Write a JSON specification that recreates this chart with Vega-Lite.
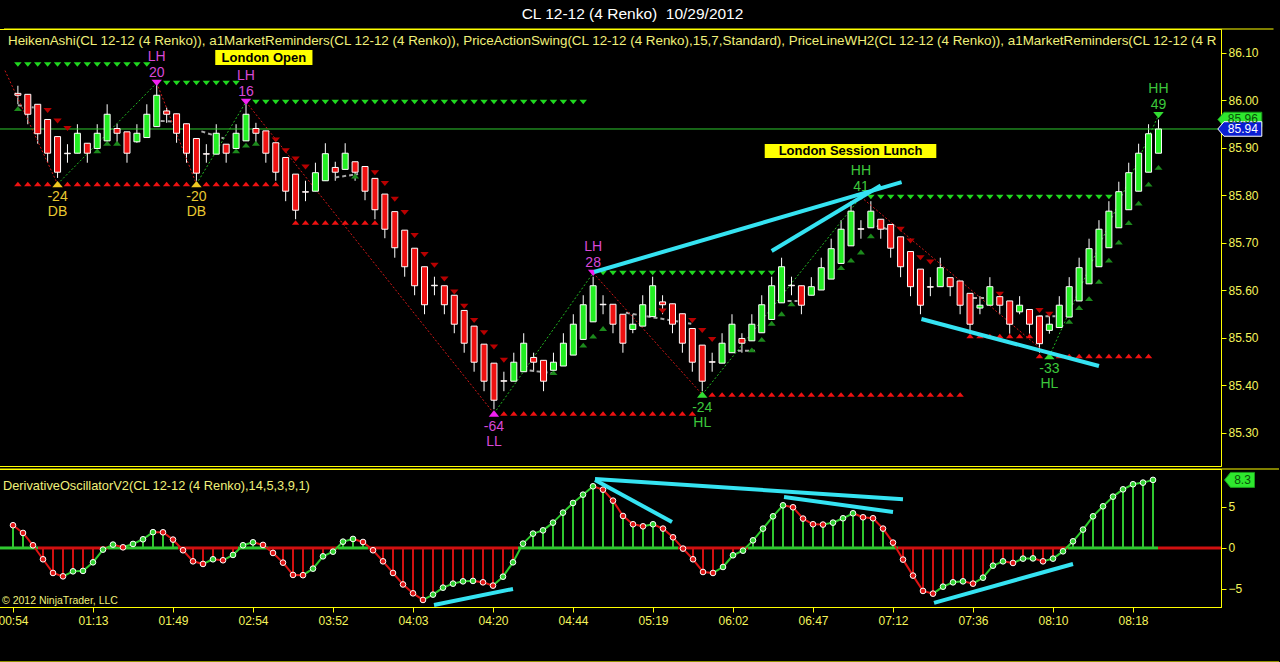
{
  "$schema": "https://vega.github.io/schema/vega-lite/v6.json",
  "background": "#000000",
  "padding": {"left": -3, "top": 6, "right": 12, "bottom": 34},
  "title": {"text": "CL 12-12 (4 Renko)\u00a0 10/29/2012", "color": "#FFFFFF", "font": "Liberation Sans", "fontSize": 15.5, "fontWeight": "normal", "anchor": "middle", "offset": 6, "dx": -6},
  "spacing": 1,
  "config": {
    "view": {"stroke": "#FFFF00", "strokeWidth": 1},
    "axis": {"grid": false, "labelFont": "Liberation Sans", "labelFontSize": 12, "labelColor": "#F5F55A", "tickColor": "#FFFF00", "domainColor": "#FFFF00", "tickSize": 5, "labelPadding": 2, "title": null},
    "text": {"font": "Liberation Sans"}
  },
  "datasets": {
    "bars": [
      {"i":0,"o":86.015,"h":86.031,"l":85.992,"c":86.011,"r":86.076,"s":85.824,"tu":85.983},
      {"i":1,"o":86.013,"h":86.013,"l":85.95,"c":85.971,"r":86.076,"s":85.824},
      {"i":2,"o":85.992,"h":85.992,"l":85.909,"c":85.93,"r":86.076,"s":85.824},
      {"i":3,"o":85.96,"h":85.96,"l":85.869,"c":85.889,"r":86.076,"s":85.824,"td":85.979},
      {"i":4,"o":85.924,"h":85.924,"l":85.837,"c":85.849,"r":86.076,"td":85.957},
      {"i":5,"o":85.889,"h":85.908,"l":85.869,"c":85.888,"r":86.076,"s":85.824,"td":85.941},
      {"i":6,"o":85.889,"h":85.95,"l":85.889,"c":85.931,"r":86.076,"s":85.824},
      {"i":7,"o":85.91,"h":85.91,"l":85.869,"c":85.889,"r":86.076,"s":85.824},
      {"i":8,"o":85.899,"h":85.95,"l":85.899,"c":85.931,"r":86.076,"s":85.824,"tu":85.894},
      {"i":9,"o":85.915,"h":85.992,"l":85.915,"c":85.971,"r":86.076,"s":85.824,"tu":85.91},
      {"i":10,"o":85.941,"h":85.951,"l":85.911,"c":85.931,"r":86.076,"s":85.824,"tu":85.91},
      {"i":11,"o":85.934,"h":85.934,"l":85.869,"c":85.889,"r":86.076,"s":85.824},
      {"i":12,"o":85.913,"h":85.95,"l":85.911,"c":85.931,"r":86.076,"s":85.824},
      {"i":13,"o":85.922,"h":85.992,"l":85.922,"c":85.971,"r":86.076,"s":85.824},
      {"i":14,"o":85.945,"h":86.034,"l":85.945,"c":86.011,"s":85.824},
      {"i":15,"o":85.978,"h":85.985,"l":85.953,"c":85.971,"r":86.037,"s":85.824},
      {"i":16,"o":85.972,"h":85.972,"l":85.911,"c":85.931,"r":86.037,"s":85.824},
      {"i":17,"o":85.951,"h":85.951,"l":85.869,"c":85.889,"r":86.037,"s":85.824},
      {"i":18,"o":85.92,"h":85.92,"l":85.831,"c":85.847,"r":86.037},
      {"i":19,"o":85.888,"h":85.908,"l":85.869,"c":85.887,"r":86.037,"s":85.824},
      {"i":20,"o":85.887,"h":85.95,"l":85.887,"c":85.931,"r":86.037,"s":85.824},
      {"i":21,"o":85.908,"h":85.908,"l":85.869,"c":85.889,"r":86.037,"s":85.824},
      {"i":22,"o":85.899,"h":85.95,"l":85.899,"c":85.931,"r":86.037,"s":85.824,"tu":85.894},
      {"i":23,"o":85.915,"h":85.992,"l":85.915,"c":85.971,"s":85.824,"tu":85.906},
      {"i":24,"o":85.941,"h":85.953,"l":85.911,"c":85.931,"r":85.997,"s":85.824,"tu":85.91},
      {"i":25,"o":85.936,"h":85.936,"l":85.869,"c":85.889,"r":85.997,"s":85.824},
      {"i":26,"o":85.911,"h":85.911,"l":85.831,"c":85.849,"r":85.997,"s":85.824,"td":85.917},
      {"i":27,"o":85.88,"h":85.88,"l":85.788,"c":85.809,"r":85.997,"td":85.894},
      {"i":28,"o":85.845,"h":85.845,"l":85.75,"c":85.769,"r":85.997,"s":85.743,"td":85.877},
      {"i":29,"o":85.808,"h":85.831,"l":85.788,"c":85.807,"r":85.997,"s":85.743,"td":85.86},
      {"i":30,"o":85.809,"h":85.869,"l":85.809,"c":85.848,"r":85.997,"s":85.743},
      {"i":31,"o":85.831,"h":85.91,"l":85.831,"c":85.888,"r":85.997,"s":85.743},
      {"i":32,"o":85.859,"h":85.871,"l":85.831,"c":85.849,"r":85.997,"s":85.743},
      {"i":33,"o":85.855,"h":85.91,"l":85.855,"c":85.889,"r":85.997,"s":85.743},
      {"i":34,"o":85.871,"h":85.871,"l":85.831,"c":85.849,"r":85.997,"s":85.743,"tu":85.841},
      {"i":35,"o":85.861,"h":85.861,"l":85.79,"c":85.809,"r":85.997,"s":85.743},
      {"i":36,"o":85.836,"h":85.836,"l":85.75,"c":85.77,"r":85.997,"s":85.743,"td":85.848},
      {"i":37,"o":85.803,"h":85.803,"l":85.71,"c":85.729,"r":85.997,"td":85.825},
      {"i":38,"o":85.766,"h":85.766,"l":85.669,"c":85.69,"r":85.997,"td":85.792},
      {"i":39,"o":85.727,"h":85.727,"l":85.629,"c":85.65,"r":85.997,"td":85.764},
      {"i":40,"o":85.689,"h":85.689,"l":85.59,"c":85.61,"r":85.997,"td":85.716},
      {"i":41,"o":85.65,"h":85.65,"l":85.55,"c":85.57,"r":85.997,"td":85.676},
      {"i":42,"o":85.611,"h":85.629,"l":85.59,"c":85.61,"r":85.997,"td":85.653},
      {"i":43,"o":85.61,"h":85.61,"l":85.55,"c":85.57,"r":85.997,"td":85.624},
      {"i":44,"o":85.59,"h":85.59,"l":85.51,"c":85.529,"r":85.997,"td":85.597},
      {"i":45,"o":85.558,"h":85.558,"l":85.469,"c":85.489,"r":85.997,"td":85.567},
      {"i":46,"o":85.525,"h":85.525,"l":85.429,"c":85.449,"r":85.997,"td":85.537},
      {"i":47,"o":85.487,"h":85.487,"l":85.388,"c":85.409,"r":85.997,"td":85.511},
      {"i":48,"o":85.447,"h":85.447,"l":85.35,"c":85.369,"r":85.997,"td":85.481},
      {"i":49,"o":85.41,"h":85.429,"l":85.388,"c":85.409,"r":85.997,"s":85.341,"td":85.453},
      {"i":50,"o":85.409,"h":85.469,"l":85.409,"c":85.449,"r":85.997,"s":85.341},
      {"i":51,"o":85.429,"h":85.51,"l":85.429,"c":85.489,"r":85.997,"s":85.341},
      {"i":52,"o":85.459,"h":85.469,"l":85.429,"c":85.449,"r":85.997,"s":85.341},
      {"i":53,"o":85.453,"h":85.453,"l":85.388,"c":85.409,"r":85.997,"s":85.341},
      {"i":54,"o":85.432,"h":85.469,"l":85.432,"c":85.449,"r":85.997,"s":85.341,"tu":85.427},
      {"i":55,"o":85.441,"h":85.51,"l":85.441,"c":85.489,"r":85.997,"s":85.341},
      {"i":56,"o":85.464,"h":85.55,"l":85.464,"c":85.529,"r":85.997,"s":85.341},
      {"i":57,"o":85.497,"h":85.59,"l":85.497,"c":85.57,"r":85.997,"s":85.341,"tu":85.485},
      {"i":58,"o":85.534,"h":85.629,"l":85.534,"c":85.61,"s":85.341,"tu":85.504},
      {"i":59,"o":85.571,"h":85.59,"l":85.55,"c":85.57,"r":85.637,"s":85.341,"tu":85.52},
      {"i":60,"o":85.571,"h":85.571,"l":85.51,"c":85.529,"r":85.637,"s":85.341},
      {"i":61,"o":85.55,"h":85.55,"l":85.469,"c":85.489,"r":85.637,"s":85.341},
      {"i":62,"o":85.518,"h":85.55,"l":85.51,"c":85.529,"r":85.637,"s":85.341},
      {"i":63,"o":85.525,"h":85.59,"l":85.525,"c":85.57,"r":85.637,"s":85.341},
      {"i":64,"o":85.545,"h":85.629,"l":85.545,"c":85.61,"r":85.637,"s":85.341},
      {"i":65,"o":85.576,"h":85.59,"l":85.55,"c":85.57,"r":85.637,"s":85.341,"td":85.557},
      {"i":66,"o":85.572,"h":85.572,"l":85.51,"c":85.529,"r":85.637,"s":85.341},
      {"i":67,"o":85.551,"h":85.551,"l":85.469,"c":85.489,"r":85.637,"s":85.341},
      {"i":68,"o":85.52,"h":85.52,"l":85.429,"c":85.449,"r":85.637,"s":85.341,"td":85.537},
      {"i":69,"o":85.485,"h":85.485,"l":85.388,"c":85.409,"r":85.637,"td":85.516},
      {"i":70,"o":85.45,"h":85.469,"l":85.429,"c":85.449,"r":85.637,"s":85.381,"td":85.497},
      {"i":71,"o":85.447,"h":85.51,"l":85.447,"c":85.489,"r":85.637,"s":85.381},
      {"i":72,"o":85.469,"h":85.55,"l":85.469,"c":85.529,"r":85.637,"s":85.381},
      {"i":73,"o":85.499,"h":85.51,"l":85.469,"c":85.489,"r":85.637,"s":85.381},
      {"i":74,"o":85.494,"h":85.55,"l":85.494,"c":85.529,"r":85.637,"s":85.381,"tu":85.475},
      {"i":75,"o":85.511,"h":85.59,"l":85.511,"c":85.57,"r":85.637,"s":85.381,"tu":85.497},
      {"i":76,"o":85.539,"h":85.629,"l":85.539,"c":85.61,"r":85.637,"s":85.381,"tu":85.531},
      {"i":77,"o":85.574,"h":85.669,"l":85.574,"c":85.65,"s":85.381,"tu":85.551},
      {"i":78,"o":85.611,"h":85.629,"l":85.59,"c":85.61,"s":85.381,"tu":85.572},
      {"i":79,"o":85.61,"h":85.61,"l":85.55,"c":85.569,"s":85.381},
      {"i":80,"o":85.59,"h":85.628,"l":85.59,"c":85.608,"s":85.381},
      {"i":81,"o":85.601,"h":85.669,"l":85.601,"c":85.648,"s":85.381},
      {"i":82,"o":85.624,"h":85.709,"l":85.624,"c":85.688,"s":85.381},
      {"i":83,"o":85.657,"h":85.748,"l":85.657,"c":85.729,"s":85.381,"tu":85.648},
      {"i":84,"o":85.694,"h":85.788,"l":85.694,"c":85.767,"s":85.381,"tu":85.664},
      {"i":85,"o":85.73,"h":85.748,"l":85.709,"c":85.729,"s":85.381,"tu":85.681},
      {"i":86,"o":85.732,"h":85.788,"l":85.732,"c":85.767,"r":85.797,"s":85.381,"tu":85.715},
      {"i":87,"o":85.75,"h":85.75,"l":85.709,"c":85.729,"r":85.797,"s":85.381},
      {"i":88,"o":85.739,"h":85.739,"l":85.669,"c":85.689,"r":85.797,"s":85.381},
      {"i":89,"o":85.713,"h":85.713,"l":85.628,"c":85.65,"r":85.797,"s":85.381,"td":85.729},
      {"i":90,"o":85.682,"h":85.682,"l":85.588,"c":85.608,"r":85.797,"s":85.381,"td":85.704},
      {"i":91,"o":85.645,"h":85.645,"l":85.55,"c":85.569,"r":85.797,"s":85.381,"td":85.669},
      {"i":92,"o":85.608,"h":85.628,"l":85.588,"c":85.607,"r":85.797,"s":85.381,"td":85.66},
      {"i":93,"o":85.608,"h":85.669,"l":85.608,"c":85.648,"r":85.797,"s":85.381},
      {"i":94,"o":85.627,"h":85.627,"l":85.588,"c":85.608,"r":85.797,"s":85.381},
      {"i":95,"o":85.62,"h":85.62,"l":85.55,"c":85.569,"r":85.797,"s":85.381},
      {"i":96,"o":85.594,"h":85.594,"l":85.509,"c":85.529,"r":85.797,"s":85.504},
      {"i":97,"o":85.563,"h":85.588,"l":85.55,"c":85.569,"r":85.797,"s":85.504},
      {"i":98,"o":85.569,"h":85.628,"l":85.569,"c":85.608,"r":85.797,"s":85.504},
      {"i":99,"o":85.587,"h":85.587,"l":85.55,"c":85.569,"r":85.797,"s":85.504,"td":85.592},
      {"i":100,"o":85.578,"h":85.578,"l":85.509,"c":85.529,"r":85.797,"s":85.504},
      {"i":101,"o":85.555,"h":85.588,"l":85.55,"c":85.569,"r":85.797,"s":85.504},
      {"i":102,"o":85.56,"h":85.56,"l":85.509,"c":85.529,"r":85.797,"s":85.504},
      {"i":103,"o":85.546,"h":85.546,"l":85.469,"c":85.488,"r":85.797,"s":85.462,"td":85.558},
      {"i":104,"o":85.516,"h":85.548,"l":85.509,"c":85.529,"r":85.797,"td":85.55},
      {"i":105,"o":85.522,"h":85.588,"l":85.522,"c":85.569,"r":85.797,"s":85.462},
      {"i":106,"o":85.544,"h":85.628,"l":85.544,"c":85.608,"r":85.797,"s":85.462,"tu":85.535},
      {"i":107,"o":85.578,"h":85.669,"l":85.578,"c":85.648,"r":85.797,"s":85.462,"tu":85.564},
      {"i":108,"o":85.614,"h":85.709,"l":85.614,"c":85.688,"r":85.797,"s":85.462,"tu":85.583},
      {"i":109,"o":85.65,"h":85.748,"l":85.65,"c":85.729,"r":85.797,"s":85.462,"tu":85.619},
      {"i":110,"o":85.69,"h":85.788,"l":85.69,"c":85.767,"r":85.797,"s":85.462,"tu":85.664},
      {"i":111,"o":85.732,"h":85.829,"l":85.732,"c":85.808,"s":85.462,"tu":85.702},
      {"i":112,"o":85.77,"h":85.869,"l":85.77,"c":85.848,"s":85.462,"tu":85.743},
      {"i":113,"o":85.809,"h":85.909,"l":85.809,"c":85.889,"s":85.462,"tu":85.784},
      {"i":114,"o":85.849,"h":85.95,"l":85.849,"c":85.93,"s":85.462,"tu":85.824},
      {"i":115,"o":85.889,"h":85.96,"l":85.889,"c":85.94,"tu":85.859}
    ],
    "osc": [
      {"i":0,"v":2.77,"d":"d"},{"i":1,"v":1.83,"d":"d"},{"i":2,"v":0.33,"d":"d"},{"i":3,"v":-1.38,"d":"d"},{"i":4,"v":-3.05,"d":"d"},{"i":5,"v":-3.46,"d":"d"},{"i":6,"v":-2.85,"d":"u"},{"i":7,"v":-2.8,"d":"u"},{"i":8,"v":-1.75,"d":"u"},{"i":9,"v":-0.2,"d":"u"},
      {"i":10,"v":0.41,"d":"u"},{"i":11,"v":0.08,"d":"d"},{"i":12,"v":0.49,"d":"u"},{"i":13,"v":1.06,"d":"u"},{"i":14,"v":1.93,"d":"u"},{"i":15,"v":1.91,"d":"d"},{"i":16,"v":1.02,"d":"d"},{"i":17,"v":-0.28,"d":"d"},{"i":18,"v":-1.63,"d":"d"},{"i":19,"v":-1.95,"d":"d"},
      {"i":20,"v":-1.38,"d":"u"},{"i":21,"v":-1.5,"d":"d"},{"i":22,"v":-0.85,"d":"u"},{"i":23,"v":0.33,"d":"u"},{"i":24,"v":0.69,"d":"u"},{"i":25,"v":0.37,"d":"d"},{"i":26,"v":-0.61,"d":"d"},{"i":27,"v":-1.79,"d":"d"},{"i":28,"v":-3.29,"d":"d"},{"i":29,"v":-3.32,"d":"d"},
      {"i":30,"v":-2.52,"d":"u"},{"i":31,"v":-1.02,"d":"u"},{"i":32,"v":-0.45,"d":"u"},{"i":33,"v":0.77,"d":"u"},{"i":34,"v":1.1,"d":"u"},{"i":35,"v":0.73,"d":"d"},{"i":36,"v":-0.28,"d":"d"},{"i":37,"v":-1.63,"d":"d"},{"i":38,"v":-3.05,"d":"d"},{"i":39,"v":-4.45,"d":"d"},
      {"i":40,"v":-5.53,"d":"d"},{"i":41,"v":-6.34,"d":"d"},{"i":42,"v":-5.69,"d":"u"},{"i":43,"v":-4.84,"d":"u"},{"i":44,"v":-4.35,"d":"u"},{"i":45,"v":-4.07,"d":"u"},{"i":46,"v":-4.02,"d":"u"},{"i":47,"v":-4.19,"d":"d"},{"i":48,"v":-4.59,"d":"d"},{"i":49,"v":-3.5,"d":"u"},
      {"i":50,"v":-1.75,"d":"u"},{"i":51,"v":0.53,"d":"u"},{"i":52,"v":1.75,"d":"u"},{"i":53,"v":2.15,"d":"u"},{"i":54,"v":3.09,"d":"u"},{"i":55,"v":4.31,"d":"u"},{"i":56,"v":5.49,"d":"u"},{"i":57,"v":6.5,"d":"u"},{"i":58,"v":7.52,"d":"u"},{"i":59,"v":7.11,"d":"d"},
      {"i":60,"v":5.77,"d":"d"},{"i":61,"v":3.9,"d":"d"},{"i":62,"v":2.89,"d":"d"},{"i":63,"v":2.64,"d":"d"},{"i":64,"v":2.89,"d":"u"},{"i":65,"v":2.36,"d":"d"},{"i":66,"v":1.3,"d":"d"},{"i":67,"v":-0.08,"d":"d"},{"i":68,"v":-1.38,"d":"d"},{"i":69,"v":-2.93,"d":"d"},
      {"i":70,"v":-3.05,"d":"d"},{"i":71,"v":-2.32,"d":"u"},{"i":72,"v":-0.89,"d":"u"},{"i":73,"v":-0.33,"d":"u"},{"i":74,"v":0.93,"d":"u"},{"i":75,"v":2.36,"d":"u"},{"i":76,"v":3.86,"d":"u"},{"i":77,"v":5.2,"d":"u"},{"i":78,"v":4.96,"d":"d"},{"i":79,"v":3.58,"d":"d"},
      {"i":80,"v":2.89,"d":"d"},{"i":81,"v":2.85,"d":"d"},{"i":82,"v":3.09,"d":"u"},{"i":83,"v":3.62,"d":"u"},{"i":84,"v":4.23,"d":"u"},{"i":85,"v":3.74,"d":"d"},{"i":86,"v":3.62,"d":"d"},{"i":87,"v":2.36,"d":"d"},{"i":88,"v":0.65,"d":"d"},{"i":89,"v":-1.42,"d":"d"},
      {"i":90,"v":-3.37,"d":"d"},{"i":91,"v":-5.24,"d":"d"},{"i":92,"v":-5.57,"d":"d"},{"i":93,"v":-4.72,"d":"u"},{"i":94,"v":-4.19,"d":"u"},{"i":95,"v":-4.07,"d":"u"},{"i":96,"v":-4.35,"d":"d"},{"i":97,"v":-3.62,"d":"u"},{"i":98,"v":-2.16,"d":"u"},{"i":99,"v":-1.63,"d":"u"},
      {"i":100,"v":-1.83,"d":"d"},{"i":101,"v":-1.3,"d":"u"},{"i":102,"v":-1.27,"d":"u"},{"i":103,"v":-1.63,"d":"d"},{"i":104,"v":-1.3,"d":"u"},{"i":105,"v":-0.41,"d":"u"},{"i":106,"v":0.81,"d":"u"},{"i":107,"v":2.24,"d":"u"},{"i":108,"v":3.86,"d":"u"},{"i":109,"v":5.08,"d":"u"},
      {"i":110,"v":6.26,"d":"u"},{"i":111,"v":7.15,"d":"u"},{"i":112,"v":7.77,"d":"u"},{"i":113,"v":7.97,"d":"u"},{"i":114,"v":8.3,"d":"u"}
    ],
    "swings": [
      {"i":4,"p":85.824,"w":"DB","n":"-24","k":"DB","pos":"lo"},
      {"i":14,"p":86.037,"w":"LH","n":"20","k":"LH","pos":"hi"},
      {"i":18,"p":85.824,"w":"DB","n":"-20","k":"DB","pos":"lo"},
      {"i":23,"p":85.997,"w":"LH","n":"16","k":"LH","pos":"hi"},
      {"i":48,"p":85.341,"w":"LL","n":"-64","k":"LL","pos":"lo"},
      {"i":58,"p":85.637,"w":"LH","n":"28","k":"LH","pos":"hi"},
      {"i":69,"p":85.381,"w":"HL","n":"-24","k":"HL","pos":"lo"},
      {"i":85,"p":85.797,"w":"HH","n":"41","k":"HH","pos":"hi"},
      {"i":104,"p":85.462,"w":"HL","n":"-33","k":"HL","pos":"lo"},
      {"i":115,"p":85.969,"w":"HH","n":"49","k":"HH","pos":"hi"}
    ],
    "zig": [
      {"i0":-1.3,"p0":86.063,"i1":4,"p1":85.824},
      {"i0":4,"p0":85.824,"i1":14,"p1":86.037},
      {"i0":14,"p0":86.037,"i1":18,"p1":85.824},
      {"i0":18,"p0":85.824,"i1":23,"p1":85.997},
      {"i0":23,"p0":85.997,"i1":48,"p1":85.341},
      {"i0":48,"p0":85.341,"i1":58,"p1":85.637},
      {"i0":58,"p0":85.637,"i1":69,"p1":85.381},
      {"i0":69,"p0":85.381,"i1":85,"p1":85.797},
      {"i0":85,"p0":85.797,"i1":104,"p1":85.462},
      {"i0":104,"p0":85.462,"i1":115,"p1":85.969}
    ],
    "dash": [
      {"i0":0,"p0":85.99,"i1":1.6,"p1":85.985},
      {"i0":14.4,"p0":85.957,"i1":16.2,"p1":85.955},
      {"i0":18.5,"p0":85.935,"i1":20.8,"p1":85.92},
      {"i0":32,"p0":85.838,"i1":34.3,"p1":85.845},
      {"i0":50.9,"p0":85.433,"i1":54.3,"p1":85.425},
      {"i0":61.3,"p0":85.553,"i1":67.9,"p1":85.53},
      {"i0":71.9,"p0":85.473,"i1":74.3,"p1":85.473},
      {"i0":77.6,"p0":85.578,"i1":78.6,"p1":85.578},
      {"i0":86.6,"p0":85.736,"i1":88.3,"p1":85.725},
      {"i0":96.3,"p0":85.584,"i1":98.3,"p1":85.584},
      {"i0":102.9,"p0":85.546,"i1":104.6,"p1":85.546}
    ],
    "trend": [
      {"i0":58.1,"p0":85.639,"i1":89.1,"p1":85.828},
      {"i0":76,"p0":85.683,"i1":87,"p1":85.821},
      {"i0":91.1,"p0":85.54,"i1":109,"p1":85.441}
    ],
    "otrend": [
      {"i0":42.1,"v0":-6.95,"i1":50,"v1":-5.0},
      {"i0":58.2,"v0":8.29,"i1":65.9,"v1":3.17},
      {"i0":58.2,"v0":8.4,"i1":89,"v1":5.95},
      {"i0":77.1,"v0":6.22,"i1":88,"v1":4.39},
      {"i0":92.1,"v0":-6.7,"i1":106,"v1":-1.95}
    ],
    "notes": [
      {"t":"London Open","i0":19.9,"i1":29.7,"p0":86.1063,"p1":86.0747,"ic":24.8,"pc":86.0905},
      {"t":"London Session Lunch","i0":75.3,"i1":92.6,"p0":85.9084,"p1":85.8789,"ic":83.95,"pc":85.8937}
    ],
    "frame": [
      {"x0":-1.4,"x1":126.6,"p":86.1505,"v":9.63,"vb":-13.9}
    ]
  },
  "vconcat": [
    {
      "width": 1222,
      "height": 437,
      "layer": [
        {
          "data": {"name": "bars"},
          "mark": {"type": "rule", "color": "#FFFFFF", "strokeWidth": 1},
          "encoding": {
            "x": {"field": "i", "type": "quantitative", "scale": {"domain": [-1.4, 120.8], "nice": false, "zero": false}, "axis": null},
            "y": {"field": "l", "type": "quantitative", "scale": {"domain": [85.2305, 86.1505], "nice": false, "zero": false},
                  "axis": {"orient": "right", "values": [85.3, 85.4, 85.5, 85.6, 85.7, 85.8, 85.9, 86.0, 86.1], "format": ".2f"}},
            "y2": {"field": "h"}
          }
        },
        {
          "data": {"values": [{"p": 85.94}]},
          "mark": {"type": "rule", "color": "#2EC82E", "strokeWidth": 1},
          "encoding": {"y": {"field": "p", "type": "quantitative"}}
        },
        {
          "data": {"name": "dash"},
          "mark": {"type": "rule", "color": "#A8A8A8", "strokeWidth": 2, "strokeDash": [4, 3]},
          "encoding": {"x": {"field": "i0", "type": "quantitative"}, "x2": {"field": "i1"}, "y": {"field": "p0", "type": "quantitative"}, "y2": {"field": "p1"}}
        },
        {
          "data": {"name": "zig"},
          "mark": {"type": "rule", "strokeWidth": 1, "strokeDash": [2, 2]},
          "encoding": {
            "x": {"field": "i0", "type": "quantitative"}, "x2": {"field": "i1"},
            "y": {"field": "p0", "type": "quantitative"}, "y2": {"field": "p1"},
            "color": {"condition": {"test": "datum.p1 > datum.p0", "value": "#22B822"}, "value": "#D01818"}
          }
        },
        {
          "data": {"name": "bars"},
          "transform": [{"filter": "isValid(datum.r)"}],
          "mark": {"type": "point", "filled": true, "opacity": 1, "shape": "M -1 -0.6 L 1 -0.6 L 0 0.6 Z", "size": 56, "color": "#20D820"},
          "encoding": {"x": {"field": "i", "type": "quantitative"}, "y": {"field": "r", "type": "quantitative"}}
        },
        {
          "data": {"name": "bars"},
          "transform": [{"filter": "isValid(datum.s)"}],
          "mark": {"type": "point", "filled": true, "opacity": 1, "shape": "M -1 0.6 L 1 0.6 L 0 -0.6 Z", "size": 56, "color": "#EE1111"},
          "encoding": {"x": {"field": "i", "type": "quantitative"}, "y": {"field": "s", "type": "quantitative"}}
        },
        {
          "data": {"name": "bars"},
          "transform": [{"filter": "isValid(datum.td)"}],
          "mark": {"type": "point", "filled": true, "opacity": 1, "shape": "M -1 -0.6 L 1 -0.6 L 0 0.6 Z", "size": 70, "color": "#B80000"},
          "encoding": {"x": {"field": "i", "type": "quantitative"}, "y": {"field": "td", "type": "quantitative"}}
        },
        {
          "data": {"name": "bars"},
          "transform": [{"filter": "isValid(datum.tu)"}],
          "mark": {"type": "point", "filled": true, "opacity": 1, "shape": "M -1 0.6 L 1 0.6 L 0 -0.6 Z", "size": 64, "color": "#1C8A1C"},
          "encoding": {"x": {"field": "i", "type": "quantitative"}, "y": {"field": "tu", "type": "quantitative"}}
        },
        {
          "data": {"name": "bars"},
          "mark": {"type": "bar", "size": 6, "stroke": "#FFFFFF", "strokeWidth": 1},
          "encoding": {
            "x": {"field": "i", "type": "quantitative"},
            "y": {"field": "o", "type": "quantitative"}, "y2": {"field": "c"},
            "color": {"condition": {"test": "datum.c < datum.o", "value": "#EE1111"}, "value": "#22EE22"}
          }
        },
        {
          "data": {"name": "swings"},
          "mark": {"type": "point", "filled": true, "opacity": 1, "size": 110},
          "encoding": {
            "x": {"field": "i", "type": "quantitative"}, "y": {"field": "p", "type": "quantitative"},
            "shape": {"condition": {"test": "datum.pos == 'hi'", "value": "M -1 -0.6 L 1 -0.6 L 0 0.6 Z"}, "value": "M -1 0.6 L 1 0.6 L 0 -0.6 Z"},
            "color": {"condition": [{"test": "datum.k == 'DB'", "value": "#F0C820"}, {"test": "datum.k == 'LH' || datum.k == 'LL'", "value": "#F020F0"}], "value": "#33DD33"}
          }
        },
        {
          "data": {"name": "swings"},
          "transform": [{"filter": "datum.pos == 'hi'"}],
          "mark": {"type": "text", "fontSize": 14, "dy": -26, "baseline": "middle"},
          "encoding": {
            "x": {"field": "i", "type": "quantitative"}, "y": {"field": "p", "type": "quantitative"}, "text": {"field": "w"},
            "color": {"condition": {"test": "datum.k == 'LH'", "value": "#D848D8"}, "value": "#3CC83C"}
          }
        },
        {
          "data": {"name": "swings"},
          "transform": [{"filter": "datum.pos == 'hi'"}],
          "mark": {"type": "text", "fontSize": 14, "dy": -10, "baseline": "middle"},
          "encoding": {
            "x": {"field": "i", "type": "quantitative"}, "y": {"field": "p", "type": "quantitative"}, "text": {"field": "n"},
            "color": {"condition": {"test": "datum.k == 'LH'", "value": "#D848D8"}, "value": "#3CC83C"}
          }
        },
        {
          "data": {"name": "swings"},
          "transform": [{"filter": "datum.pos == 'lo'"}],
          "mark": {"type": "text", "fontSize": 14, "dy": 13, "baseline": "middle"},
          "encoding": {
            "x": {"field": "i", "type": "quantitative"}, "y": {"field": "p", "type": "quantitative"}, "text": {"field": "n"},
            "color": {"condition": [{"test": "datum.k == 'DB'", "value": "#E8C830"}, {"test": "datum.k == 'LL'", "value": "#D848D8"}], "value": "#3CC83C"}
          }
        },
        {
          "data": {"name": "swings"},
          "transform": [{"filter": "datum.pos == 'lo'"}],
          "mark": {"type": "text", "fontSize": 14, "dy": 28, "baseline": "middle"},
          "encoding": {
            "x": {"field": "i", "type": "quantitative"}, "y": {"field": "p", "type": "quantitative"}, "text": {"field": "w"},
            "color": {"condition": [{"test": "datum.k == 'DB'", "value": "#E8C830"}, {"test": "datum.k == 'LL'", "value": "#D848D8"}], "value": "#3CC83C"}
          }
        },
        {
          "data": {"name": "notes"},
          "mark": {"type": "rect", "color": "#FFFF00"},
          "encoding": {"x": {"field": "i0", "type": "quantitative"}, "x2": {"field": "i1"}, "y": {"field": "p0", "type": "quantitative"}, "y2": {"field": "p1"}}
        },
        {
          "data": {"name": "notes"},
          "mark": {"type": "text", "fontSize": 13, "fontWeight": "bold", "color": "#000000", "baseline": "middle", "align": "center"},
          "encoding": {"x": {"field": "ic", "type": "quantitative"}, "y": {"field": "pc", "type": "quantitative"}, "text": {"field": "t"}}
        },
        {
          "data": {"name": "trend"},
          "mark": {"type": "rule", "color": "#35E3F2", "strokeWidth": 4},
          "encoding": {"x": {"field": "i0", "type": "quantitative"}, "x2": {"field": "i1"}, "y": {"field": "p0", "type": "quantitative"}, "y2": {"field": "p1"}}
        },
        {
          "data": {"values": [{"x": 123.2, "p": 85.96, "t": "85.96", "k": "hi"}, {"x": 123.2, "p": 85.94, "t": "85.94", "k": "last"}]},
          "mark": {"type": "point", "filled": true, "opacity": 1, "size": 1936, "shape": "M -1 0 L -0.72 -0.33 L 1 -0.33 L 1 0.33 L -0.72 0.33 Z", "strokeWidth": 1},
          "encoding": {
            "x": {"field": "x", "type": "quantitative"}, "y": {"field": "p", "type": "quantitative"},
            "fill": {"condition": {"test": "datum.k == 'hi'", "value": "#2EE82E"}, "value": "#0A1ED2"},
            "stroke": {"condition": {"test": "datum.k == 'hi'", "value": "#1A9A1A"}, "value": "#FFFFFF"}
          }
        },
        {
          "data": {"values": [{"x": 123.2, "p": 85.96, "t": "85.96", "k": "hi"}, {"x": 123.2, "p": 85.94, "t": "85.94", "k": "last"}]},
          "mark": {"type": "text", "fontSize": 12, "dx": 3, "baseline": "middle", "align": "center"},
          "encoding": {
            "x": {"field": "x", "type": "quantitative"}, "y": {"field": "p", "type": "quantitative"}, "text": {"field": "t"},
            "color": {"condition": {"test": "datum.k == 'hi'", "value": "#0A500A"}, "value": "#FFFFFF"}
          }
        },
        {
          "data": {"values": [{"x": -1.4, "p": 86.1505, "t": "HeikenAshi(CL 12-12 (4 Renko)), a1MarketReminders(CL 12-12 (4 Renko)), PriceActionSwing(CL 12-12 (4 Renko),15,7,Standard), PriceLineWH2(CL 12-12 (4 Renko)), a1MarketReminders(CL 12-12 (4 Renko))"}]},
          "mark": {"type": "text", "fontSize": 13.4, "align": "left", "baseline": "middle", "dx": 4, "dy": 12, "color": "#F0F07A", "limit": 1218, "ellipsis": "\u200b"},
          "encoding": {"x": {"field": "x", "type": "quantitative"}, "y": {"field": "p", "type": "quantitative"}, "text": {"field": "t"}}
        },
        {
          "data": {"name": "frame"},
          "mark": {"type": "rule", "color": "#FFFF00", "strokeWidth": 1},
          "encoding": {"x": {"field": "x0", "type": "quantitative"}, "x2": {"field": "x1"}, "y": {"field": "p", "type": "quantitative"}}
        }
      ]
    },
    {
      "width": 1222,
      "height": 138,
      "layer": [
        {
          "data": {"name": "osc"},
          "mark": {"type": "tick", "orient": "horizontal", "size": 10, "thickness": 3, "opacity": 1},
          "encoding": {
            "x": {"field": "i", "type": "quantitative", "scale": {"domain": [-1.4, 120.8], "nice": false, "zero": false},
                  "axis": {"orient": "bottom", "values": [0, 8, 16, 24, 32, 40, 48, 56, 64, 72, 80, 88, 96, 104, 112],
                           "labelExpr": "['00:54','01:13','01:49','02:54','03:52','04:03','04:20','04:44','05:19','06:02','06:47','07:12','07:36','08:10','08:18'][round(datum.value / 8)]",
                           "labelPadding": 3, "labelFlush": false}},
            "y": {"field": "z", "type": "quantitative", "scale": {"domain": [-7.2, 9.63], "nice": false, "zero": false},
                  "axis": {"orient": "right", "values": [-5, 0, 5], "format": "d"}},
            "color": {"condition": {"test": "datum.v > 0", "value": "#30C830"}, "value": "#D01010"}
          },
          "transform": [{"calculate": "0", "as": "z"}]
        },
        {
          "data": {"values": [{"a": -1.4, "b": -0.5, "z": 0, "k": "g"}, {"a": 114.5, "b": 120.8, "z": 0, "k": "r"}]},
          "mark": {"type": "rule", "strokeWidth": 3},
          "encoding": {
            "x": {"field": "a", "type": "quantitative"}, "x2": {"field": "b"}, "y": {"field": "z", "type": "quantitative"},
            "color": {"condition": {"test": "datum.k == 'g'", "value": "#30C830"}, "value": "#D01010"}
          }
        },
        {
          "data": {"name": "osc"},
          "transform": [{"calculate": "0", "as": "z"}],
          "mark": {"type": "rule", "strokeWidth": 2},
          "encoding": {
            "x": {"field": "i", "type": "quantitative"},
            "y": {"field": "v", "type": "quantitative"}, "y2": {"field": "z"},
            "color": {"condition": {"test": "datum.v > 0", "value": "#30C830"}, "value": "#D01010"}
          }
        },
        {
          "data": {"name": "osc"},
          "transform": [
            {"window": [{"op": "lag", "field": "v", "as": "pv"}, {"op": "lag", "field": "i", "as": "pi"}], "sort": [{"field": "i"}]},
            {"filter": "isValid(datum.pi)"}
          ],
          "mark": {"type": "rule", "strokeWidth": 2},
          "encoding": {
            "x": {"field": "pi", "type": "quantitative"}, "x2": {"field": "i"},
            "y": {"field": "pv", "type": "quantitative"}, "y2": {"field": "v"},
            "color": {"condition": {"test": "datum.d == 'u'", "value": "#30D030"}, "value": "#E01414"}
          }
        },
        {
          "data": {"name": "osc"},
          "mark": {"type": "point", "filled": true, "opacity": 1, "size": 32, "stroke": "#FFFFFF", "strokeWidth": 1},
          "encoding": {
            "x": {"field": "i", "type": "quantitative"}, "y": {"field": "v", "type": "quantitative"},
            "color": {"condition": {"test": "datum.d == 'u'", "value": "#30D030"}, "value": "#E01414"}
          }
        },
        {
          "data": {"name": "otrend"},
          "mark": {"type": "rule", "color": "#35E3F2", "strokeWidth": 4},
          "encoding": {"x": {"field": "i0", "type": "quantitative"}, "x2": {"field": "i1"}, "y": {"field": "v0", "type": "quantitative"}, "y2": {"field": "v1"}}
        },
        {
          "data": {"values": [{"x": 122.65, "v": 8.3, "t": "8.3"}]},
          "mark": {"type": "point", "filled": true, "opacity": 1, "size": 900, "shape": "M -1 0 L -0.6 -0.5 L 1 -0.5 L 1 0.5 L -0.6 0.5 Z", "color": "#2EE82E", "stroke": "#1A9A1A", "strokeWidth": 1},
          "encoding": {"x": {"field": "x", "type": "quantitative"}, "y": {"field": "v", "type": "quantitative"}}
        },
        {
          "data": {"values": [{"x": 122.65, "v": 8.3, "t": "8.3"}]},
          "mark": {"type": "text", "fontSize": 12, "dx": 3, "baseline": "middle", "align": "center", "color": "#0A500A"},
          "encoding": {"x": {"field": "x", "type": "quantitative"}, "y": {"field": "v", "type": "quantitative"}, "text": {"field": "t"}}
        },
        {
          "data": {"values": [{"x": -1.4, "v": 9.63, "t": "DerivativeOscillatorV2(CL 12-12 (4 Renko),14,5,3,9,1)"}]},
          "mark": {"type": "text", "fontSize": 12.8, "align": "left", "baseline": "middle", "dx": 4, "dy": 17, "color": "#F0F07A"},
          "encoding": {"x": {"field": "x", "type": "quantitative"}, "y": {"field": "v", "type": "quantitative"}, "text": {"field": "t"}}
        },
        {
          "data": {"values": [{"x": -1.4, "v": -7.2, "t": "© 2012 NinjaTrader, LLC"}]},
          "mark": {"type": "text", "fontSize": 10.5, "align": "left", "baseline": "middle", "dx": 3, "dy": -6, "color": "#F0F07A"},
          "encoding": {"x": {"field": "x", "type": "quantitative"}, "y": {"field": "v", "type": "quantitative"}, "text": {"field": "t"}}
        },
        {
          "data": {"name": "frame"},
          "mark": {"type": "rule", "color": "#FFFF00", "strokeWidth": 1},
          "encoding": {"x": {"field": "x0", "type": "quantitative"}, "x2": {"field": "x1"}, "y": {"field": "v", "type": "quantitative"}}
        },
        {
          "data": {"name": "frame"},
          "mark": {"type": "rule", "color": "#FFFF00", "strokeWidth": 1},
          "encoding": {"x": {"field": "x0", "type": "quantitative"}, "x2": {"field": "x1"}, "y": {"field": "vb", "type": "quantitative"}}
        }
      ]
    }
  ]
}
